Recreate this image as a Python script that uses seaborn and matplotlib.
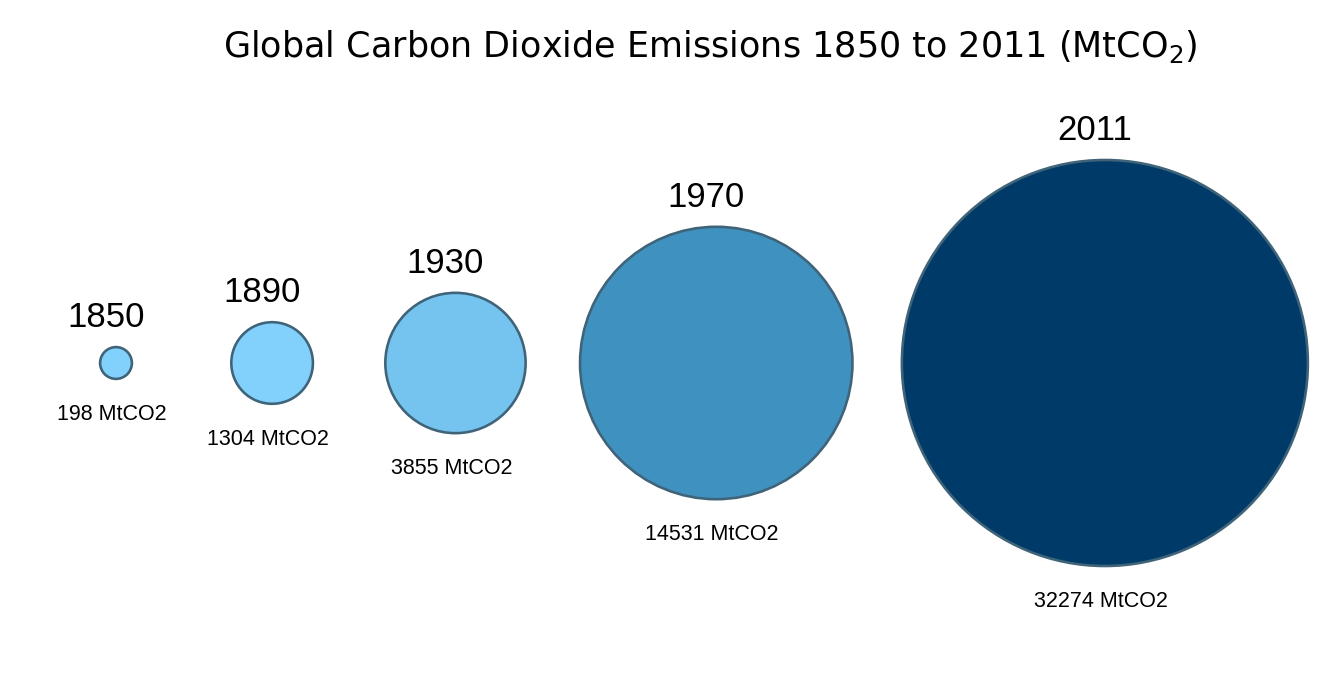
import numpy as np
import pandas as pd
import seaborn as sns
import matplotlib.pyplot as plt

sns.set_style('white')

years = ['1850', '1890', '1930', '1970', '2011']
emissions = [198, 1304, 3855, 14531, 32274]  # MtCO2
bubble_colors = ['#82D0FC', '#82D0FC', '#75C4F0', '#3F91BF', '#003A68']

W, H, DPI = 1342, 696, 100
px2pt = 72 / DPI
k = 1.13                 # bubble radius in px per sqrt(MtCO2)
gaps = [97, 70, 52, 47]  # white space between bubbles, px
x0, yc = 116, 363

radius = k * np.sqrt(emissions)
xs = [x0]
for i, g in enumerate(gaps):
    xs.append(xs[-1] + radius[i] + 1.2 + g + radius[i + 1] + 1.2)

df = pd.DataFrame({'year': years, 'value': emissions, 'x': xs, 'y': yc})
# marker area in pt^2, proportional to the value
size_map = {v: (2 * k * np.sqrt(v) * px2pt) ** 2 for v in emissions}

fig = plt.figure(figsize=(W / DPI, H / DPI), dpi=DPI)
ax = fig.add_axes([0, 0, 1, 1])
sns.scatterplot(data=df, x='x', y='y', hue='year', palette=bubble_colors,
                size='value', sizes=size_map, edgecolor='#3F6479',
                linewidth=2.6 * px2pt, legend=False, ax=ax, zorder=3)
ax.set_xlim(0, W)
ax.set_ylim(H, 0)
ax.axis('off')

for x, r, yr, v in zip(xs, radius, years, emissions):
    ax.text(x - 10, yc - r - 20, yr, ha='center', va='baseline',
            fontsize=25, family='Liberation Sans', color='black')
    ax.text(x - 4, yc + r + 25, f'{v} MtCO2', ha='center', va='top',
            fontsize=15.5, family='Liberation Sans', color='black')

fig.text(710 / W, 1 - 57 / H, 'Global Carbon Dioxide Emissions 1850 to 2011 (MtCO$_2$)',
         ha='center', va='baseline', fontsize=25.2, family='DejaVu Sans',
         color='black')

fig.savefig('out.png', dpi=DPI)
